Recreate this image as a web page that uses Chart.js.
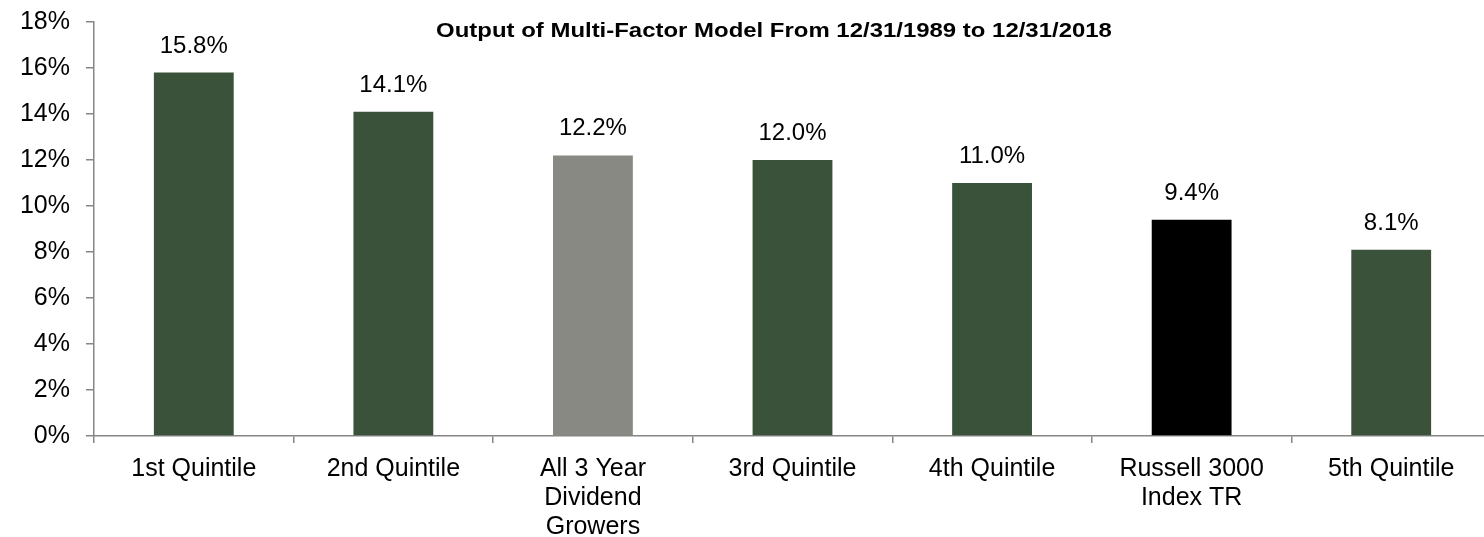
<!DOCTYPE html>
<html>
<head>
<meta charset="utf-8">
<script src="https://cdn.jsdelivr.net/npm/chart.js@4.4.1/dist/chart.umd.min.js"></script>
<style>
  html, body { margin: 0; padding: 0; background: #fff; overflow: hidden; }
  #wrap { width: 1491px; height: 537px; }
</style>
</head>
<body>
<div id="wrap"><canvas id="quintileChart"></canvas></div>
<script>
// values
var categories = [
    '1st Quintile',
    '2nd Quintile',
    ['All 3 Year', 'Dividend', 'Growers'],
    '3rd Quintile',
    '4th Quintile',
    ['Russell 3000', 'Index TR'],
    '5th Quintile'
];
var returns = [15.8, 14.1, 12.2, 12.0, 11.0, 9.4, 8.1];
var barColors = ['#3a5239', '#3a5239', '#878982', '#3a5239', '#3a5239', '#000000', '#3a5239'];
var yTicks = [0, 2, 4, 6, 8, 10, 12, 14, 16, 18];
var chartTitle = 'Output of Multi-Factor Model From 12/31/1989 to 12/31/2018';

var font = '"Liberation Sans", Arial, sans-serif';

// value labels above each bar + title inside the plot
var barLabels = {
    id: 'barLabels',
    afterDatasetsDraw: function(chart) {
        var ctx = chart.ctx;
        var meta = chart.getDatasetMeta(0);
        ctx.save();
        ctx.fillStyle = '#000';
        ctx.font = '24px ' + font;
        ctx.textAlign = 'center';
        ctx.textBaseline = 'alphabetic';
        meta.data.forEach(function(bar, i) {
            ctx.fillText(returns[i].toFixed(1) + '%', bar.x, bar.y - 20);
        });
        // title is a bit wider than a plain bold face, stretch it sideways
        ctx.font = 'bold 21px ' + font;
        ctx.translate(774, 37);
        ctx.scale(1.14, 1);
        ctx.fillText(chartTitle, 0, 0);
        ctx.restore();
    }
};

var ctx = document.getElementById('quintileChart').getContext('2d');
var chart = new Chart(ctx, {
    type: 'bar',
    data: {
        labels: categories,
        datasets: [{
            data: returns,
            backgroundColor: barColors,
            borderWidth: 0,
            barPercentage: 0.4,
            categoryPercentage: 1.0
        }]
    },
    options: {
        responsive: true,
        maintainAspectRatio: false,
        animation: false,
        layout: { padding: { left: 0, top: 22, right: 0, bottom: 0 } },
        plugins: {
            legend: { display: false },
            tooltip: { enabled: false }
        },
        scales: {
            x: {
                afterFit: function(scale) {
                    scale.height = 101;
                    scale.paddingLeft = 0;
                    scale.paddingRight = 0;
                },
                grid: {
                    display: true,
                    drawOnChartArea: false,
                    offset: true,
                    tickLength: 7,
                    color: '#868686',
                    lineWidth: 1.5
                },
                border: { color: '#868686', width: 1.5 },
                ticks: {
                    color: '#000',
                    font: { family: font, size: 25, lineHeight: 1.16 },
                    padding: 12,
                    maxRotation: 0,
                    autoSkip: false
                }
            },
            y: {
                min: 0,
                max: 18,
                afterFit: function(scale) {
                    scale.width = 94;
                    scale.paddingTop = 0;
                    scale.paddingBottom = 0;
                },
                afterBuildTicks: function(scale) {
                    scale.ticks = yTicks.map(function(v) { return { value: v }; });
                },
                grid: {
                    display: true,
                    drawOnChartArea: false,
                    tickLength: 8,
                    color: '#868686',
                    lineWidth: 1.5
                },
                border: { color: '#868686', width: 1.5 },
                ticks: {
                    color: '#000',
                    font: { family: font, size: 25 },
                    padding: 16,
                    callback: function(v) { return v + '%'; }
                }
            }
        }
    },
    plugins: [barLabels]
});
</script>
</body>
</html>
